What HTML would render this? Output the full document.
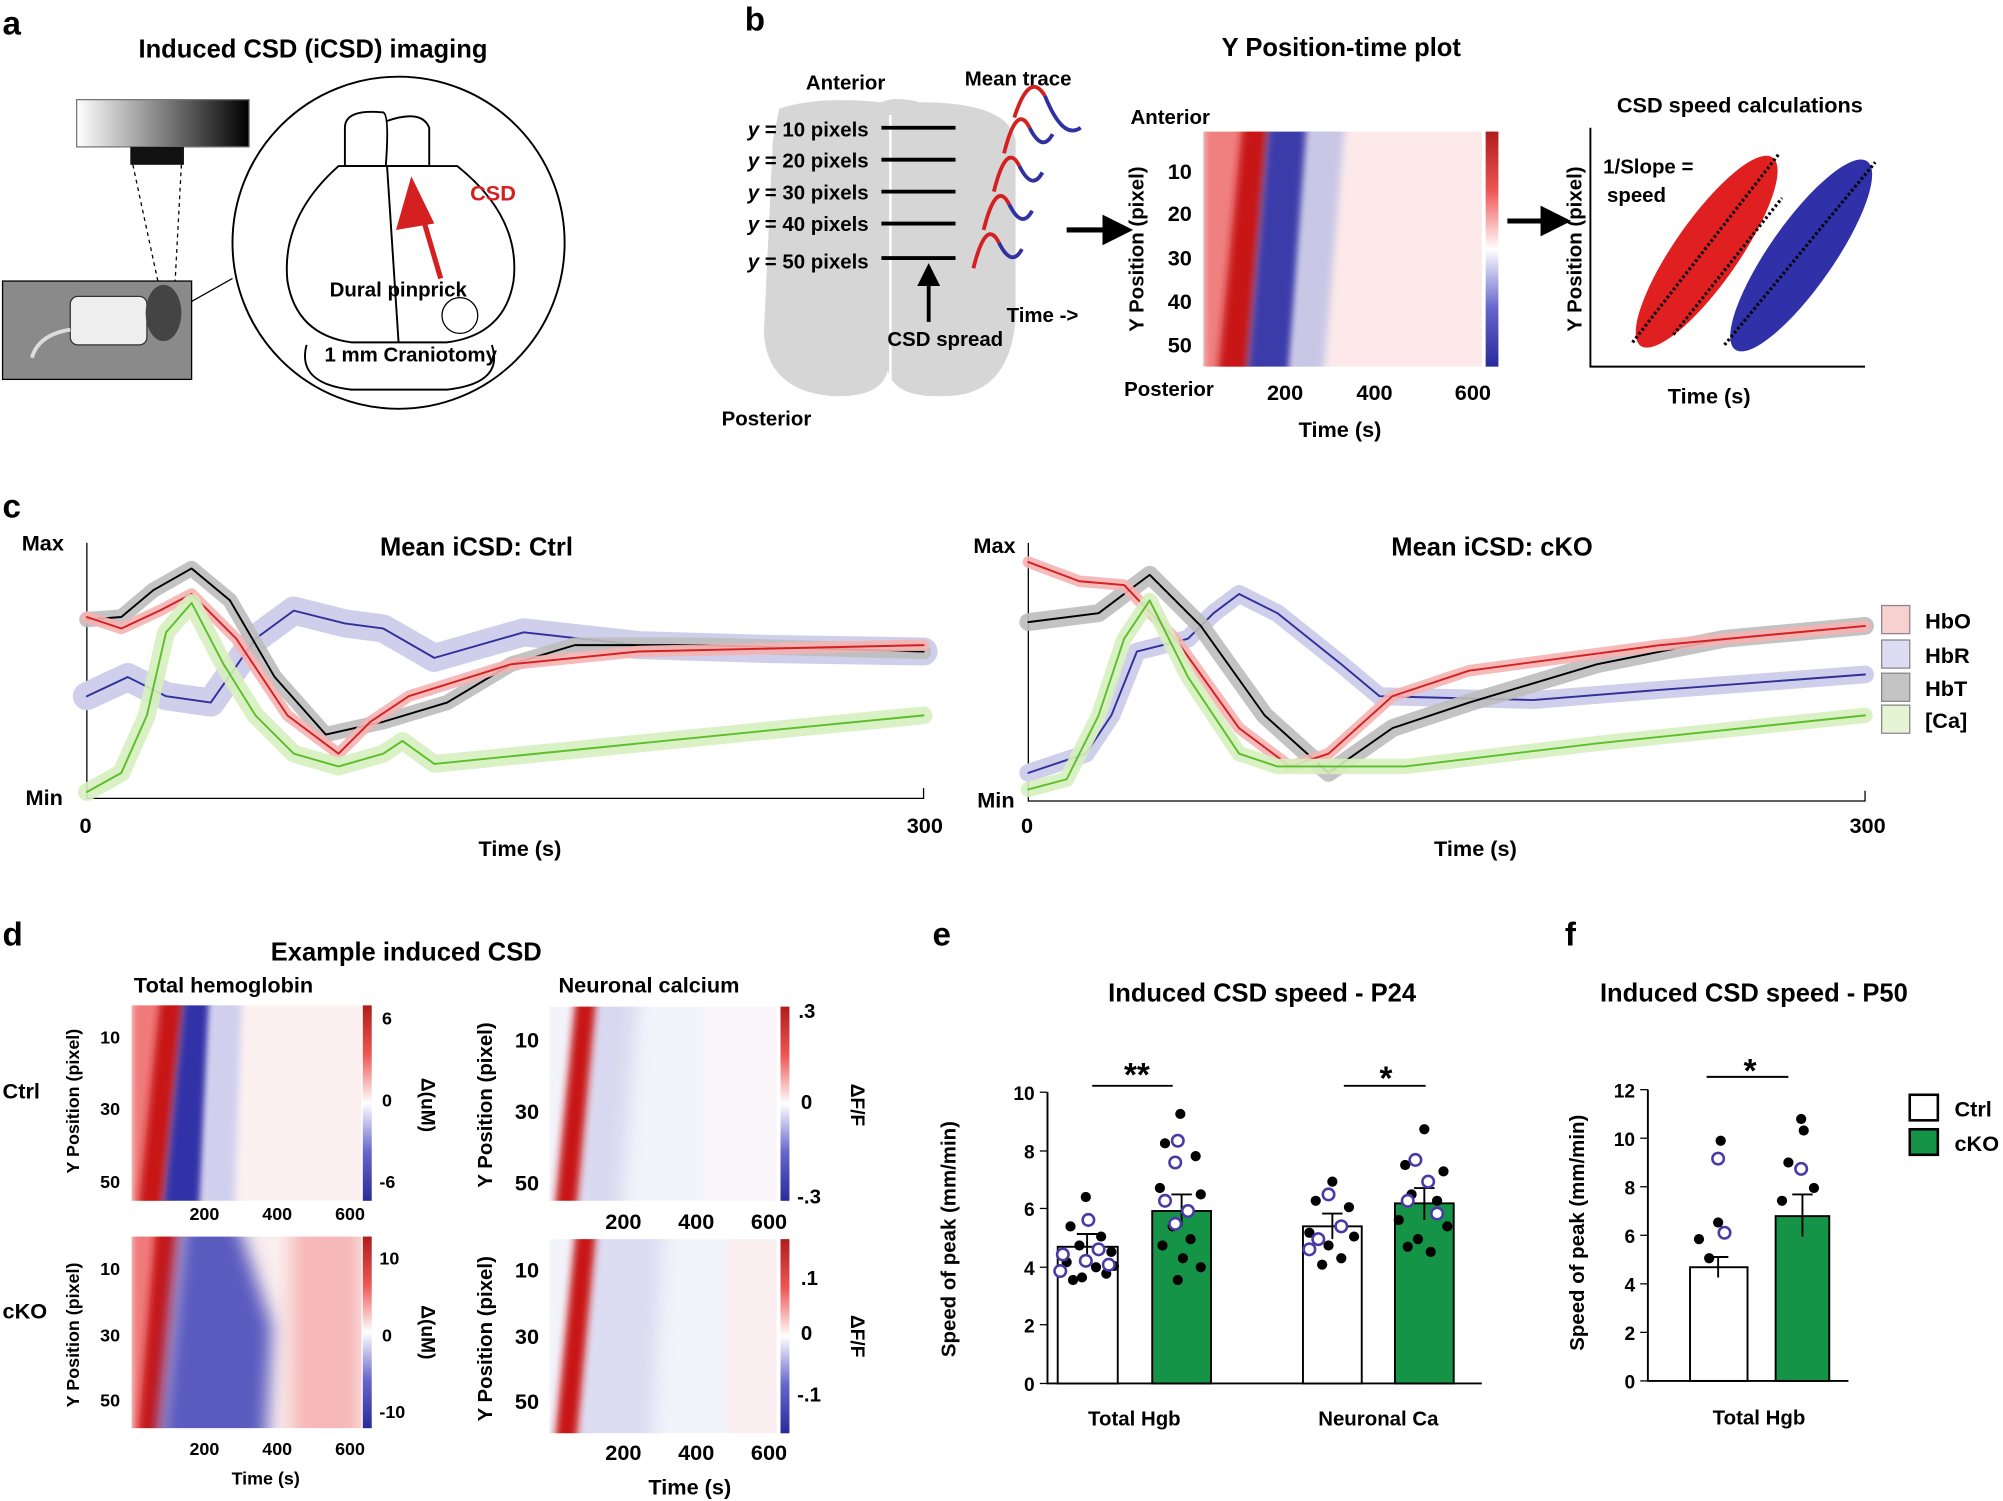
<!DOCTYPE html>
<html><head><meta charset="utf-8"><style>
html,body{margin:0;padding:0;background:#fff;}
svg{display:block;font-family:"Liberation Sans",Arial,sans-serif;}
.b{font-weight:bold}
</style></head><body>
<svg width="2003" height="1501" viewBox="0 0 1568 1175" preserveAspectRatio="none" xmlns="http://www.w3.org/2000/svg">
<defs>
<linearGradient id="gray" x1="0" x2="1"><stop offset="0" stop-color="#fff"/><stop offset="1" stop-color="#000"/></linearGradient>
<linearGradient id="cb" x1="0" y1="0" x2="0" y2="1"><stop offset="0" stop-color="#b01c1c"/><stop offset="0.25" stop-color="#e55"/><stop offset="0.5" stop-color="#fff"/><stop offset="0.75" stop-color="#66c"/><stop offset="1" stop-color="#2a2a9a"/></linearGradient>
<filter id="bl" x="-20%" y="-20%" width="140%" height="140%"><feGaussianBlur stdDeviation="3"/></filter>
<filter id="bl2" x="-20%" y="-20%" width="140%" height="140%"><feGaussianBlur stdDeviation="7"/></filter>
<marker id="ah" markerWidth="6" markerHeight="6" refX="3" refY="3" orient="auto"><path d="M0,0 L6,3 L0,6 z" fill="#000"/></marker>
</defs>
<g class="b" font-size="26"><text x="2" y="27">a</text><text x="583" y="24">b</text><text x="2" y="405">c</text><text x="2" y="740">d</text><text x="730" y="740">e</text><text x="1225" y="740">f</text></g>

<!-- panel a -->
<text x="245" y="45" font-size="20" class="b" text-anchor="middle">Induced CSD (iCSD) imaging</text>
<rect x="60" y="78" width="135" height="37" fill="url(#gray)" stroke="#777"/>
<rect x="102" y="115" width="42" height="14" fill="#111"/>
<line x1="104" y1="129" x2="124" y2="222" stroke="#000" stroke-dasharray="3,3"/>
<line x1="142" y1="129" x2="137" y2="222" stroke="#000" stroke-dasharray="3,3"/>
<rect x="2" y="220" width="148" height="77" fill="#8a8a8a" stroke="#000"/>
<rect x="55" y="232" width="60" height="38" rx="6" fill="#eee" stroke="#333"/>
<ellipse cx="128" cy="245" rx="14" ry="22" fill="#444"/>
<path d="M55 258 Q30 262 25 280" stroke="#ddd" stroke-width="3" fill="none"/>
<line x1="150" y1="236" x2="182" y2="218" stroke="#000"/>
<circle cx="312" cy="190" r="130" fill="none" stroke="#000" stroke-width="1.5"/>
<path d="M270 100 Q270 85 300 88 Q305 90 302 130 L270 130 Z M302 95 Q330 85 336 100 L336 130 L302 130" fill="none" stroke="#000" stroke-width="1.5"/>
<path d="M265 130 Q220 170 225 220 Q232 262 275 268 L350 268 Q395 262 402 220 Q408 170 358 130 Z" fill="none" stroke="#000" stroke-width="1.5"/>
<line x1="303" y1="130" x2="312" y2="268" stroke="#000" stroke-width="1.5"/>
<path d="M240 270 Q232 300 275 305 L350 305 Q395 300 385 270" fill="none" stroke="#000" stroke-width="1.5"/>
<circle cx="360" cy="247" r="14" fill="none" stroke="#000"/>
<line x1="345" y1="218" x2="325" y2="150" stroke="#d42020" stroke-width="4"/>
<path d="M310 180 L322 138 L340 175 Z" fill="#d42020"/>
<text x="368" y="157" font-size="17" class="b" fill="#d42020">CSD</text>
<text x="258" y="232" font-size="16" class="b">Dural pinprick</text>
<text x="254" y="283" font-size="16" class="b">1 mm Craniotomy</text>

<!-- panel b -->
<path d="M610 85 Q640 75 690 80 Q700 75 720 80 Q790 80 795 110 L795 250 Q790 310 740 310 Q700 312 695 290 Q690 312 650 310 Q600 305 598 260 L605 110 Z" fill="#d6d6d6"/>
<line x1="697" y1="90" x2="697" y2="300" stroke="#fff" stroke-width="2"/>
<text x="662" y="70" font-size="16" class="b" text-anchor="middle">Anterior</text>
<text x="600" y="333" font-size="16" class="b" text-anchor="middle">Posterior</text>
<g font-size="16" class="b" text-anchor="end">
<text x="680" y="107"><tspan font-style="italic">y</tspan> = 10 pixels</text>
<text x="680" y="131"><tspan font-style="italic">y</tspan> = 20 pixels</text>
<text x="680" y="156"><tspan font-style="italic">y</tspan> = 30 pixels</text>
<text x="680" y="181"><tspan font-style="italic">y</tspan> = 40 pixels</text>
<text x="680" y="210"><tspan font-style="italic">y</tspan> = 50 pixels</text></g>
<g stroke="#000" stroke-width="3"><line x1="690" y1="100" x2="748" y2="100"/><line x1="690" y1="125" x2="748" y2="125"/><line x1="690" y1="150" x2="748" y2="150"/><line x1="690" y1="175" x2="748" y2="175"/><line x1="690" y1="202" x2="748" y2="202"/></g>
<line x1="727" y1="252" x2="727" y2="215" stroke="#000" stroke-width="3" marker-end="url(#ah)"/>
<text x="740" y="271" font-size="16" class="b" text-anchor="middle">CSD spread</text>
<text x="797" y="67" font-size="16" class="b" text-anchor="middle">Mean trace</text>
<g fill="none" stroke-width="3">
<path d="M762 210 Q772 170 782 190" stroke="#d42020"/><path d="M782 190 Q792 210 800 195" stroke="#3030a0"/>
<path d="M770 180 Q780 140 790 160" stroke="#d42020"/><path d="M790 160 Q800 180 808 165" stroke="#3030a0"/>
<path d="M778 150 Q788 110 798 130" stroke="#d42020"/><path d="M798 130 Q808 150 816 135" stroke="#3030a0"/>
<path d="M786 120 Q796 80 806 100" stroke="#d42020"/><path d="M806 100 Q816 120 824 105" stroke="#3030a0"/>
<path d="M794 92 Q806 55 818 75" stroke="#d42020"/><path d="M818 75 Q832 110 846 100" stroke="#3030a0"/>
</g>
<text x="788" y="252" font-size="16" class="b">Time -&gt;</text>
<line x1="835" y1="180" x2="875" y2="180" stroke="#000" stroke-width="4" marker-end="url(#ah)"/>
<text x="1050" y="44" font-size="20" class="b" text-anchor="middle">Y Position-time plot</text>
<text x="885" y="97" font-size="16" class="b">Anterior</text>
<text x="880" y="310" font-size="16" class="b">Posterior</text>
<svg x="942" y="103" width="218" height="184" viewBox="0 0 218 184" preserveAspectRatio="none">
<rect width="218" height="184" fill="#fbeaea"/><rect x="80" width="138" height="184" fill="#fde9e9"/>
<polygon points="0,-20 57,-20 40,204 0,204" fill="#f08080" filter="url(#bl)"/>
<polygon points="32,-20 52,-20 33,204 10,204" fill="#c81818" filter="url(#bl)"/>
<polygon points="52,-20 87,-20 68,204 33,204" fill="#3a3aaa" filter="url(#bl)"/>
<polygon points="82,-20 112,-20 93,204 66,204" fill="#c8c8e6" filter="url(#bl)"/>
</svg>
<rect x="1163" y="103" width="10" height="184" fill="url(#cb)"/>
<g font-size="17" class="b" text-anchor="end"><text x="933" y="140">10</text><text x="933" y="173">20</text><text x="933" y="208">30</text><text x="933" y="242">40</text><text x="933" y="276">50</text></g>
<text transform="translate(895,195) rotate(-90)" font-size="16" class="b" text-anchor="middle">Y Position (pixel)</text>
<g font-size="17" class="b" text-anchor="middle"><text x="1006" y="313">200</text><text x="1076" y="313">400</text><text x="1153" y="313">600</text></g>
<text x="1049" y="342" font-size="17" class="b" text-anchor="middle">Time (s)</text>
<line x1="1180" y1="173" x2="1218" y2="173" stroke="#000" stroke-width="4" marker-end="url(#ah)"/>
<text x="1362" y="88" font-size="17" class="b" text-anchor="middle">CSD speed calculations</text>
<polyline points="1245,100 1245,287 1460,287" fill="none" stroke="#000" stroke-width="1.5"/>
<text transform="translate(1238,195) rotate(-90)" font-size="16" class="b" text-anchor="middle">Y Position (pixel)</text>
<text x="1338" y="316" font-size="17" class="b" text-anchor="middle">Time (s)</text>
<text x="1255" y="136" font-size="16" class="b">1/Slope =</text><text x="1258" y="158" font-size="16" class="b">speed</text>
<ellipse cx="1336" cy="197" rx="90" ry="25" transform="rotate(-55 1336 197)" fill="#e02020"/>
<ellipse cx="1410" cy="200" rx="90" ry="25" transform="rotate(-55 1410 200)" fill="#3030a8"/>
<line x1="1278" y1="268" x2="1393" y2="120" stroke="#000" stroke-width="2.5" stroke-dasharray="2,2"/>
<line x1="1310" y1="262" x2="1395" y2="155" stroke="#000" stroke-width="2.5" stroke-dasharray="2,2"/>
<line x1="1350" y1="270" x2="1468" y2="127" stroke="#000" stroke-width="2.5" stroke-dasharray="2,2"/>

<!-- panel c -->
<g font-size="17" class="b">
<text x="17" y="431">Max</text><text x="20" y="630">Min</text><text x="762" y="433">Max</text><text x="765" y="632">Min</text>
<text x="67" y="652" text-anchor="middle">0</text><text x="724" y="652" text-anchor="middle">300</text>
<text x="804" y="652" text-anchor="middle">0</text><text x="1462" y="652" text-anchor="middle">300</text>
<text x="407" y="670" text-anchor="middle">Time (s)</text><text x="1155" y="670" text-anchor="middle">Time (s)</text></g>
<text x="373" y="435" font-size="20" class="b" text-anchor="middle">Mean iCSD: Ctrl</text>
<text x="1168" y="435" font-size="20" class="b" text-anchor="middle">Mean iCSD: cKO</text>
<polyline points="68,425 68,625 723,625 723,617" fill="none" stroke="#000"/>
<polyline points="805,425 805,627 1460,627 1460,619" fill="none" stroke="#000"/>
<g fill="none" stroke-linejoin="round" stroke-linecap="round">
<!-- left -->
<polyline stroke="#cfcfec" stroke-width="22" points="68,545 100,530 130,545 165,550 200,500 230,478 270,488 300,492 340,515 410,495 500,505 600,508 723,510"/>
<polyline stroke="#30309a" stroke-width="1.5" points="68,545 100,530 130,545 165,550 200,500 230,478 270,488 300,492 340,515 410,495 500,505 600,508 723,510"/>
<polyline stroke="#bdbdbd" stroke-width="12" opacity="0.9" points="68,485 95,483 120,462 150,445 180,470 215,530 255,575 300,565 350,550 400,520 450,505 550,505 723,510"/>
<polyline stroke="#000" stroke-width="1.5" points="68,485 95,483 120,462 150,445 180,470 215,530 255,575 300,565 350,550 400,520 450,505 550,505 723,510"/>
<polyline stroke="#f5b3b3" stroke-width="9" opacity="0.9" points="68,483 95,492 125,478 150,465 185,500 225,560 265,590 290,565 320,545 400,520 500,510 723,505"/>
<polyline stroke="#d42020" stroke-width="1.5" points="68,483 95,492 125,478 150,465 185,500 225,560 265,590 290,565 320,545 400,520 500,510 723,505"/>
<polyline stroke="#d6efc0" stroke-width="14" opacity="0.9" points="68,620 95,605 115,560 130,495 150,472 175,520 200,560 230,590 265,600 300,590 315,580 340,598 400,592 500,582 600,572 723,560"/>
<polyline stroke="#5cbf2a" stroke-width="1.5" points="68,620 95,605 115,560 130,495 150,472 175,520 200,560 230,590 265,600 300,590 315,580 340,598 400,592 500,582 600,572 723,560"/>
<!-- right -->
<polyline stroke="#cfcfec" stroke-width="14" points="805,605 850,590 870,560 890,510 930,500 950,480 970,465 1000,480 1050,520 1080,545 1200,548 1300,540 1460,528"/>
<polyline stroke="#30309a" stroke-width="1.5" points="805,605 850,590 870,560 890,510 930,500 950,480 970,465 1000,480 1050,520 1080,545 1200,548 1300,540 1460,528"/>
<polyline stroke="#bdbdbd" stroke-width="14" opacity="0.9" points="805,487 860,480 900,450 940,490 990,560 1040,605 1090,570 1150,550 1250,520 1350,500 1460,490"/>
<polyline stroke="#000" stroke-width="1.5" points="805,487 860,480 900,450 940,490 990,560 1040,605 1090,570 1150,550 1250,520 1350,500 1460,490"/>
<polyline stroke="#f5b3b3" stroke-width="9" opacity="0.9" points="805,440 845,455 880,458 920,500 970,570 1010,600 1040,590 1090,545 1150,525 1300,505 1460,490"/>
<polyline stroke="#d42020" stroke-width="1.5" points="805,440 845,455 880,458 920,500 970,570 1010,600 1040,590 1090,545 1150,525 1300,505 1460,490"/>
<polyline stroke="#d6efc0" stroke-width="12" opacity="0.9" points="805,618 835,610 860,560 880,500 900,470 930,530 970,590 1000,600 1100,600 1250,582 1460,560"/>
<polyline stroke="#5cbf2a" stroke-width="1.5" points="805,618 835,610 860,560 880,500 900,470 930,530 970,590 1000,600 1100,600 1250,582 1460,560"/>
</g>
<g stroke="#888"><rect x="1473" y="474" width="22" height="22" fill="#f8d0d0"/><rect x="1473" y="501" width="22" height="22" fill="#dcdcf2"/><rect x="1473" y="527" width="22" height="22" fill="#c4c4c4"/><rect x="1473" y="552" width="22" height="22" fill="#e4f4d4"/></g>
<g font-size="17" class="b"><text x="1507" y="492">HbO</text><text x="1507" y="519">HbR</text><text x="1507" y="545">HbT</text><text x="1507" y="570">[Ca]</text></g>

<!-- panel d -->
<text x="318" y="752" font-size="20" class="b" text-anchor="middle">Example induced CSD</text>
<text x="175" y="777" font-size="17" class="b" text-anchor="middle">Total hemoglobin</text>
<text x="508" y="777" font-size="17" class="b" text-anchor="middle">Neuronal calcium</text>
<text x="2" y="860" font-size="17" class="b">Ctrl</text><text x="2" y="1032" font-size="17" class="b">cKO</text>
<svg x="103" y="787" width="180" height="153" viewBox="0 0 180 153" preserveAspectRatio="none">
<rect width="180" height="153" fill="#fdf0f0"/>
<polygon points="0,-20 47,-20 30,173 0,173" fill="#f07a7a" filter="url(#bl)"/>
<polygon points="24,-20 42,-20 22,173 4,173" fill="#c81818" filter="url(#bl)"/>
<polygon points="42,-20 64,-20 55,173 23,173" fill="#3030a8" filter="url(#bl)"/>
<polygon points="62,-20 87,-20 80,173 53,173" fill="#d0d0ee" filter="url(#bl)"/>
</svg>
<svg x="103" y="968" width="180" height="150" viewBox="0 0 180 150" preserveAspectRatio="none">
<rect width="180" height="150" fill="#fbeeee"/>
<rect x="125" y="-20" width="55" height="190" fill="#f6b8b8" filter="url(#bl2)"/>
<polygon points="0,-20 42,-20 25,170 0,170" fill="#f07a7a" filter="url(#bl)"/>
<polygon points="20,-20 36,-20 18,170 4,170" fill="#c81818" filter="url(#bl)"/>
<polygon points="40,-20 80,-20 110,70 105,170 20,170" fill="#5a5abf" filter="url(#bl2)"/>
</svg>
<svg x="430" y="788" width="178" height="152" viewBox="0 0 178 152" preserveAspectRatio="none">
<rect width="178" height="152" fill="#f3f3fb"/><rect x="120" width="58" height="152" fill="#f8f4f8"/>
<polygon points="30,-20 70,-20 55,172 18,172" fill="#d8d8f0" filter="url(#bl2)"/>
<polygon points="22,-20 38,-20 20,172 3,172" fill="#c81818" filter="url(#bl)"/>
</svg>
<svg x="430" y="970" width="178" height="152" viewBox="0 0 178 152" preserveAspectRatio="none">
<rect width="178" height="152" fill="#f3f3fb"/><rect x="140" width="38" height="152" fill="#fbeef0"/>
<polygon points="30,-20 90,-20 80,172 18,172" fill="#dcdcf2" filter="url(#bl2)"/>
<polygon points="22,-20 38,-20 20,172 3,172" fill="#c81818" filter="url(#bl)"/>
</svg>
<rect x="284" y="787" width="7" height="153" fill="url(#cb)"/><rect x="284" y="968" width="7" height="150" fill="url(#cb)"/>
<rect x="611" y="788" width="7" height="152" fill="url(#cb)"/><rect x="611" y="970" width="7" height="152" fill="url(#cb)"/>
<g font-size="14" class="b">
<text x="299" y="802">6</text><text x="299" y="866">0</text><text x="297" y="930">-6</text>
<text x="297" y="990">10</text><text x="299" y="1050">0</text><text x="297" y="1110">-10</text></g>
<g font-size="16" class="b"><text x="625" y="797">.3</text><text x="627" y="868">0</text><text x="624" y="942">-.3</text>
<text x="627" y="1006">.1</text><text x="627" y="1049">0</text><text x="624" y="1097">-.1</text></g>
<text transform="translate(330,865) rotate(90)" font-size="15" class="b" text-anchor="middle">Δ(uM)</text>
<text transform="translate(330,1043) rotate(90)" font-size="15" class="b" text-anchor="middle">Δ(uM)</text>
<text transform="translate(666,865) rotate(90)" font-size="15" class="b" text-anchor="middle">ΔF/F</text>
<text transform="translate(666,1046) rotate(90)" font-size="15" class="b" text-anchor="middle">ΔF/F</text>
<g font-size="14" class="b" text-anchor="end"><text x="94" y="817">10</text><text x="94" y="873">30</text><text x="94" y="930">50</text><text x="94" y="998">10</text><text x="94" y="1050">30</text><text x="94" y="1101">50</text></g>
<g font-size="17" class="b" text-anchor="end"><text x="422" y="820">10</text><text x="422" y="876">30</text><text x="422" y="932">50</text><text x="422" y="1000">10</text><text x="422" y="1052">30</text><text x="422" y="1103">50</text></g>
<text transform="translate(62,862) rotate(-90)" font-size="14" class="b" text-anchor="middle">Y Position (pixel)</text>
<text transform="translate(62,1045) rotate(-90)" font-size="14" class="b" text-anchor="middle">Y Position (pixel)</text>
<text transform="translate(385,865) rotate(-90)" font-size="16" class="b" text-anchor="middle">Y Position (pixel)</text>
<text transform="translate(385,1048) rotate(-90)" font-size="16" class="b" text-anchor="middle">Y Position (pixel)</text>
<g font-size="14" class="b" text-anchor="middle"><text x="160" y="955">200</text><text x="217" y="955">400</text><text x="274" y="955">600</text>
<text x="160" y="1139">200</text><text x="217" y="1139">400</text><text x="274" y="1139">600</text><text x="208" y="1162">Time (s)</text></g>
<g font-size="17" class="b" text-anchor="middle"><text x="488" y="962">200</text><text x="545" y="962">400</text><text x="602" y="962">600</text>
<text x="488" y="1143">200</text><text x="545" y="1143">400</text><text x="602" y="1143">600</text><text x="540" y="1170">Time (s)</text></g>

<!-- panel e -->
<text x="988" y="784" font-size="20" class="b" text-anchor="middle">Induced CSD speed - P24</text>
<polyline points="820,855 820,1083 1160,1083" fill="none" stroke="#000" stroke-width="1.5"/>
<g stroke="#000"><line x1="814" y1="855" x2="820" y2="855"/><line x1="814" y1="901" x2="820" y2="901"/><line x1="814" y1="946" x2="820" y2="946"/><line x1="814" y1="992" x2="820" y2="992"/><line x1="814" y1="1037" x2="820" y2="1037"/><line x1="814" y1="1083" x2="820" y2="1083"/></g>
<g font-size="15" class="b" text-anchor="end"><text x="810" y="861">10</text><text x="810" y="907">8</text><text x="810" y="952">6</text><text x="810" y="998">4</text><text x="810" y="1043">2</text><text x="810" y="1089">0</text></g>
<text transform="translate(748,970) rotate(-90)" font-size="16" class="b" text-anchor="middle">Speed of peak (mm/min)</text>
<rect x="828" y="976" width="47" height="107" fill="#fff" stroke="#000" stroke-width="1.5"/>
<rect x="902" y="948" width="46" height="135" fill="#159447" stroke="#000" stroke-width="1.5"/>
<rect x="1020" y="960" width="46" height="123" fill="#fff" stroke="#000" stroke-width="1.5"/>
<rect x="1092" y="942" width="46" height="141" fill="#159447" stroke="#000" stroke-width="1.5"/>
<g stroke="#000" stroke-width="1.5"><line x1="851" y1="966" x2="851" y2="986"/><line x1="843" y1="966" x2="859" y2="966"/>
<line x1="925" y1="935" x2="925" y2="960"/><line x1="917" y1="935" x2="933" y2="935"/>
<line x1="1043" y1="950" x2="1043" y2="970"/><line x1="1035" y1="950" x2="1051" y2="950"/>
<line x1="1115" y1="930" x2="1115" y2="955"/><line x1="1107" y1="930" x2="1123" y2="930"/>
<line x1="855" y1="850" x2="918" y2="850"/><line x1="1052" y1="850" x2="1116" y2="850"/>
<line x1="1336" y1="843" x2="1400" y2="843"/></g>
<text x="890" y="850" font-size="26" class="b" text-anchor="middle">**</text>
<text x="1085" y="853" font-size="26" class="b" text-anchor="middle">*</text>
<g fill="#000">
<circle cx="850" cy="937" r="4"/><circle cx="838" cy="960" r="4"/><circle cx="862" cy="968" r="4"/><circle cx="845" cy="975" r="4"/><circle cx="870" cy="980" r="4"/><circle cx="835" cy="988" r="4"/><circle cx="858" cy="992" r="4"/><circle cx="847" cy="1000" r="4"/><circle cx="866" cy="997" r="4"/><circle cx="840" cy="1002" r="4"/><circle cx="872" cy="991" r="4"/>
<circle cx="924" cy="872" r="4"/><circle cx="912" cy="895" r="4"/><circle cx="936" cy="905" r="4"/><circle cx="908" cy="930" r="4"/><circle cx="940" cy="935" r="4"/><circle cx="918" cy="960" r="4"/><circle cx="932" cy="970" r="4"/><circle cx="910" cy="975" r="4"/><circle cx="926" cy="985" r="4"/><circle cx="940" cy="992" r="4"/><circle cx="922" cy="1002" r="4"/>
<circle cx="1043" cy="925" r="4"/><circle cx="1030" cy="940" r="4"/><circle cx="1056" cy="945" r="4"/><circle cx="1025" cy="965" r="4"/><circle cx="1060" cy="968" r="4"/><circle cx="1040" cy="975" r="4"/><circle cx="1050" cy="985" r="4"/><circle cx="1035" cy="990" r="4"/>
<circle cx="1115" cy="884" r="4"/><circle cx="1100" cy="912" r="4"/><circle cx="1130" cy="917" r="4"/><circle cx="1105" cy="935" r="4"/><circle cx="1125" cy="940" r="4"/><circle cx="1095" cy="955" r="4"/><circle cx="1133" cy="960" r="4"/><circle cx="1110" cy="970" r="4"/><circle cx="1120" cy="980" r="4"/><circle cx="1102" cy="976" r="4"/>
<circle cx="1347" cy="893" r="4"/><circle cx="1410" cy="876" r="4"/><circle cx="1412" cy="885" r="4"/><circle cx="1400" cy="910" r="4"/><circle cx="1420" cy="930" r="4"/><circle cx="1395" cy="940" r="4"/><circle cx="1418" cy="960" r="4"/><circle cx="1400" cy="975" r="4"/><circle cx="1410" cy="1018" r="4"/><circle cx="1345" cy="957" r="4"/><circle cx="1338" cy="985" r="4"/><circle cx="1353" cy="998" r="4"/><circle cx="1330" cy="970" r="4"/>
</g>
<g fill="#fff" stroke="#4a3aa8" stroke-width="2">
<circle cx="852" cy="955" r="4.5"/><circle cx="832" cy="982" r="4.5"/><circle cx="860" cy="978" r="4.5"/><circle cx="850" cy="987" r="4.5"/><circle cx="830" cy="995" r="4.5"/><circle cx="868" cy="990" r="4.5"/>
<circle cx="922" cy="893" r="4.5"/><circle cx="920" cy="910" r="4.5"/><circle cx="912" cy="940" r="4.5"/><circle cx="930" cy="948" r="4.5"/><circle cx="920" cy="958" r="4.5"/>
<circle cx="1040" cy="935" r="4.5"/><circle cx="1050" cy="960" r="4.5"/><circle cx="1032" cy="970" r="4.5"/><circle cx="1025" cy="978" r="4.5"/>
<circle cx="1108" cy="908" r="4.5"/><circle cx="1118" cy="925" r="4.5"/><circle cx="1102" cy="940" r="4.5"/><circle cx="1125" cy="950" r="4.5"/>
<circle cx="1345" cy="907" r="4.5"/><circle cx="1350" cy="965" r="4.5"/><circle cx="1410" cy="915" r="4.5"/><circle cx="1410" cy="995" r="4.5"/>
</g>
<g font-size="16" class="b" text-anchor="middle"><text x="888" y="1116">Total Hgb</text><text x="1079" y="1116">Neuronal Ca</text><text x="1377" y="1115">Total Hgb</text></g>

<!-- panel f -->
<text x="1373" y="784" font-size="20" class="b" text-anchor="middle">Induced CSD speed - P50</text>
<polyline points="1290,853 1290,1081 1447,1081" fill="none" stroke="#000" stroke-width="1.5"/>
<g stroke="#000"><line x1="1284" y1="853" x2="1290" y2="853"/><line x1="1284" y1="891" x2="1290" y2="891"/><line x1="1284" y1="929" x2="1290" y2="929"/><line x1="1284" y1="967" x2="1290" y2="967"/><line x1="1284" y1="1005" x2="1290" y2="1005"/><line x1="1284" y1="1043" x2="1290" y2="1043"/><line x1="1284" y1="1081" x2="1290" y2="1081"/></g>
<g font-size="15" class="b" text-anchor="end"><text x="1280" y="859">12</text><text x="1280" y="897">10</text><text x="1280" y="935">8</text><text x="1280" y="973">6</text><text x="1280" y="1011">4</text><text x="1280" y="1049">2</text><text x="1280" y="1087">0</text></g>
<text transform="translate(1240,965) rotate(-90)" font-size="16" class="b" text-anchor="middle">Speed of peak (mm/min)</text>
<rect x="1323" y="992" width="45" height="89" fill="#fff" stroke="#000" stroke-width="1.5"/>
<rect x="1390" y="952" width="42" height="129" fill="#159447" stroke="#000" stroke-width="1.5"/>
<g stroke="#000" stroke-width="1.5"><line x1="1345" y1="984" x2="1345" y2="1000"/><line x1="1337" y1="984" x2="1353" y2="984"/><line x1="1411" y1="935" x2="1411" y2="968"/><line x1="1403" y1="935" x2="1419" y2="935"/></g>
<text x="1370" y="847" font-size="26" class="b" text-anchor="middle">*</text>
<rect x="1495" y="857" width="22" height="20" fill="#fff" stroke="#000" stroke-width="2"/>
<rect x="1495" y="884" width="22" height="20" fill="#159447" stroke="#000" stroke-width="2"/>
<text x="1530" y="874" font-size="17" class="b">Ctrl</text><text x="1530" y="901" font-size="17" class="b">cKO</text>
</svg>
</body></html>
